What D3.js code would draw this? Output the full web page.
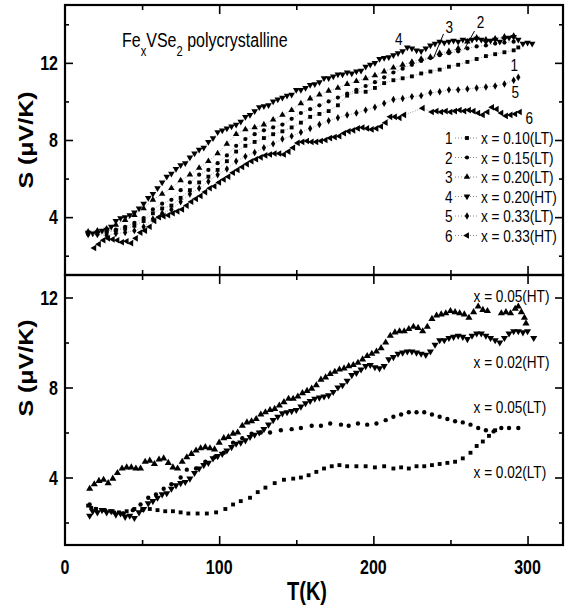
<!DOCTYPE html>
<html>
<head>
<meta charset="utf-8">
<script src="https://cdn.jsdelivr.net/npm/d3@7/dist/d3.min.js"></script>
<style>
  body { margin: 0; background: #fff; }
  text { font-family: "Liberation Sans", Arial, sans-serif; fill: #000; }
</style>
</head>
<body>
<svg id="chart" width="567" height="605"></svg>
<script>
// ---- data: [T (K), S (uV/K)] ----
// top panel
const s1_x010LT = [[15,3.15],[21,3.15],[27,3.2],[33,3.3],[39,3.4],[45,3.55],[51,3.8],[57,4.2],[63,4.45],[69,4.6],[75,5.0],[81,5.4],[87,5.8],[93,6.1],[99,6.45],[105,6.9],[111,7.4],[117,7.7],[123,7.9],[129,8.1],[135,8.3],[141,8.45],[147,8.65],[153,8.9],[159,9.2],[165,9.35],[171,9.5],[177,9.8],[183,10.3],[189,10.5],[195,10.5],[201,10.7],[207,10.95],[213,11.1],[219,11.2],[225,11.3],[231,11.45],[237,11.55],[243,11.65],[249,11.8],[255,11.9],[261,12.05],[267,12.2],[273,12.35],[279,12.45],[285,12.55],[291,12.65],[294,12.8]];
const s2_x015LT = [[15,3.2],[21,3.2],[27,3.25],[33,3.35],[39,3.5],[45,3.7],[51,3.95],[57,4.4],[63,4.7],[69,4.9],[75,5.4],[81,5.8],[87,6.2],[93,6.45],[99,6.8],[105,7.2],[111,7.7],[117,8.05],[123,8.3],[129,8.5],[135,8.65],[141,8.8],[147,9.1],[153,9.4],[159,9.6],[165,9.8],[171,10.0],[177,10.2],[183,10.4],[189,10.6],[195,10.8],[201,11.0],[207,11.25],[213,11.5],[219,11.7],[225,11.9],[231,12.1],[237,12.25],[243,12.4],[249,12.5],[255,12.6],[261,12.75],[267,12.85],[273,12.9],[279,13.0],[285,13.05],[291,13.1]];
const s3_x020LT = [[15,3.25],[21,3.3],[27,3.4],[33,3.6],[39,3.85],[45,4.1],[51,4.45],[57,4.9],[63,5.2],[69,5.5],[75,5.9],[81,6.2],[87,6.55],[93,6.9],[99,7.3],[105,7.8],[111,8.3],[117,8.55],[123,8.65],[129,8.8],[135,9.05],[141,9.3],[147,9.55],[153,9.9],[159,10.15],[165,10.35],[171,10.55],[177,10.7],[183,10.9],[189,11.05],[195,11.2],[201,11.35],[207,11.55],[213,11.75],[219,11.9],[225,12.05],[231,12.2],[237,12.3],[243,12.5],[249,12.6],[255,12.75],[261,13.1],[267,13.3],[273,13.2],[279,13.25],[285,13.35],[291,13.4]];
const s4_x020HT = [[15,3.2],[18,3.15],[21,3.2],[24,3.3],[27,3.35],[30,3.5],[33,3.8],[36,3.95],[39,4.0],[42,4.1],[45,4.25],[48,4.45],[51,4.7],[54,5.0],[57,5.2],[60,5.5],[63,5.8],[66,6.1],[69,6.25],[72,6.5],[75,6.7],[78,6.8],[81,7.1],[84,7.3],[87,7.5],[90,7.6],[93,7.9],[96,8.1],[99,8.4],[102,8.5],[105,8.6],[108,8.7],[111,8.8],[114,8.95],[117,9.2],[120,9.3],[123,9.5],[126,9.7],[129,9.75],[132,9.8],[135,10.0],[138,10.1],[141,10.2],[144,10.3],[147,10.35],[150,10.6],[153,10.6],[156,10.7],[159,10.85],[162,10.9],[165,11.0],[168,11.2],[171,11.2],[174,11.3],[177,11.4],[180,11.4],[183,11.5],[186,11.45],[189,11.55],[192,11.6],[195,11.8],[198,11.9],[201,12.0],[204,12.2],[207,12.25],[210,12.3],[213,12.4],[216,12.5],[219,12.6],[222,12.8],[225,12.75],[228,12.65],[231,12.6],[234,12.75],[237,12.9],[240,13.0],[243,13.1],[246,13.05],[249,13.1],[252,13.15],[255,13.1],[258,13.2],[261,13.15],[264,13.2],[267,13.25],[270,13.2],[273,13.1],[276,13.15],[279,13.2],[282,13.1],[285,13.25],[288,13.3],[291,13.35],[294,13.2],[297,13.0],[300,13.05],[303,13.0]];
const s5_x033LT = [[15,3.1],[21,3.1],[27,3.05],[33,3.15],[39,3.2],[45,3.3],[51,3.5],[57,3.9],[63,4.2],[69,4.4],[75,4.8],[81,5.2],[87,5.5],[93,5.85],[99,6.2],[105,6.5],[111,6.9],[117,7.15],[123,7.35],[129,7.6],[135,7.8],[141,8.05],[147,8.2],[153,8.4],[159,8.6],[165,8.8],[171,9.0],[177,9.15],[183,9.3],[189,9.4],[195,9.55],[201,9.7],[207,9.9],[213,10.1],[219,10.15],[225,10.25],[231,10.3],[237,10.45],[243,10.5],[249,10.6],[255,10.6],[261,10.65],[267,10.7],[273,10.75],[279,10.8],[285,10.9],[291,11.1],[294,11.25]];
const s6_x033HT = [[19,2.4],[22,2.6],[25,2.8],[28,2.9],[31,2.85],[34,2.8],[37,2.7],[40,2.75],[43,2.65],[46,2.9],[49,3.2],[52,3.3],[55,3.5],[58,3.8],[61,4.0],[64,4.05],[67,4.1],[70,4.2],[73,4.3],[76,4.4],[79,4.6],[82,4.8],[85,4.95],[88,5.1],[91,5.3],[94,5.5],[97,5.6],[100,5.8],[103,5.95],[106,6.1],[109,6.3],[112,6.45],[115,6.6],[118,6.75],[121,6.9],[124,7.0],[127,7.1],[130,7.2],[133,7.25],[136,7.3],[139,7.3],[142,7.25],[145,7.4],[148,7.6],[151,7.85],[154,7.9],[157,7.95],[160,7.9],[163,7.9],[166,7.95],[169,8.0],[172,8.1],[175,8.15],[178,8.2],[181,8.35],[184,8.45],[187,8.5],[190,8.6],[193,8.65],[196,8.6],[199,8.55],[202,8.6],[205,8.7],[208,8.9],[211,9.2],[214,9.2],[217,9.15],[220,9.3],[232,9.65],[238,9.45],[241,9.5],[244,9.45],[247,9.5],[250,9.45],[253,9.5],[256,9.55],[259,9.5],[262,9.55],[265,9.5],[268,9.4],[271,9.3],[274,9.45],[277,9.7],[280,9.6],[283,9.4],[286,9.25],[289,9.3],[292,9.35],[295,9.45]];

// bottom panel
const b_x005HT = [[16,3.5],[19,3.7],[22,3.85],[25,3.9],[28,3.75],[31,3.95],[34,4.2],[37,4.4],[40,4.45],[43,4.45],[46,4.4],[49,4.4],[52,4.7],[55,4.75],[58,4.6],[61,4.8],[64,4.85],[67,4.65],[70,4.45],[73,4.4],[76,4.7],[79,4.9],[82,5.05],[85,5.2],[88,5.3],[91,5.35],[94,5.3],[97,5.25],[100,5.55],[103,5.75],[106,5.8],[109,5.95],[112,6.0],[115,6.3],[118,6.45],[121,6.5],[124,6.6],[127,6.8],[130,6.9],[133,7.0],[136,7.05],[139,7.2],[142,7.35],[145,7.5],[148,7.5],[151,7.6],[154,7.75],[157,7.85],[160,7.95],[163,8.1],[166,8.35],[169,8.45],[172,8.6],[175,8.7],[178,8.8],[181,8.85],[184,8.95],[187,9.0],[190,9.1],[193,9.25],[196,9.4],[199,9.5],[202,9.6],[205,9.75],[208,10.0],[211,10.3],[214,10.45],[217,10.5],[220,10.5],[223,10.6],[226,10.7],[229,10.65],[232,10.5],[235,10.7],[238,11.05],[241,11.2],[244,11.25],[247,11.3],[250,11.4],[253,11.35],[256,11.3],[259,11.25],[262,11.1],[265,11.35],[268,11.6],[271,11.45],[274,11.4],[283,11.3],[286,11.35],[289,11.3],[292,11.5],[294,11.6],[296,11.35],[298,11.1],[299,10.85]];
const b_x002HT = [[16,2.3],[18,2.5],[21,2.45],[24,2.55],[27,2.45],[30,2.5],[33,2.35],[36,2.4],[39,2.25],[42,2.3],[45,2.2],[48,2.45],[51,2.6],[54,2.85],[57,2.95],[60,3.1],[63,3.25],[66,3.3],[69,3.5],[72,3.65],[75,3.75],[78,3.8],[81,3.95],[84,4.2],[87,4.4],[90,4.55],[93,4.65],[96,4.85],[99,4.95],[102,5.05],[105,5.2],[108,5.35],[111,5.5],[114,5.55],[117,5.65],[120,5.8],[123,5.9],[126,6.0],[129,6.15],[132,6.35],[135,6.55],[138,6.7],[141,6.85],[144,6.9],[147,6.95],[150,7.0],[153,7.15],[156,7.3],[159,7.4],[162,7.5],[165,7.55],[168,7.6],[171,7.65],[174,7.8],[177,8.0],[180,8.1],[183,8.3],[186,8.55],[189,8.65],[192,8.8],[195,8.95],[198,9.0],[201,8.9],[204,8.85],[207,8.95],[210,9.25],[213,9.35],[216,9.5],[219,9.55],[222,9.6],[225,9.6],[228,9.55],[231,9.5],[234,9.45],[237,9.6],[240,9.9],[243,10.1],[246,10.1],[249,10.2],[252,10.25],[255,10.3],[258,10.25],[261,10.15],[264,10.3],[267,10.4],[270,10.4],[273,10.3],[276,10.2],[279,10.1],[282,10.0],[285,10.2],[288,10.4],[291,10.5],[294,10.5],[297,10.45],[300,10.5],[304,10.2]];
const b_x005LT = [[16,2.8],[20,2.6],[26,2.55],[32,2.45],[38,2.4],[44,2.55],[49,2.8],[54,3.1],[59,3.25],[64,3.5],[69,3.7],[75,4.0],[79,4.35],[85,4.4],[91,4.7],[97,4.9],[103,5.1],[109,5.55],[115,5.75],[121,5.95],[127,6.0],[133,6.0],[140,6.1],[147,6.15],[153,6.2],[160,6.3],[166,6.3],[172,6.4],[179,6.35],[184,6.3],[190,6.4],[196,6.35],[202,6.4],[208,6.55],[213,6.7],[218,6.8],[223,6.9],[228,6.9],[233,6.9],[238,6.8],[243,6.7],[248,6.6],[253,6.5],[258,6.45],[263,6.35],[268,6.2],[273,6.1],[278,6.05],[283,6.2],[288,6.2],[294,6.2]];
const b_x002LT = [[15,2.75],[17,2.65],[20,2.6],[25,2.55],[30,2.5],[35,2.45],[40,2.5],[45,2.6],[50,2.55],[55,2.6],[60,2.55],[65,2.5],[70,2.5],[75,2.45],[80,2.4],[86,2.4],[92,2.4],[98,2.45],[104,2.6],[109,2.8],[114,2.95],[120,3.1],[125,3.35],[130,3.55],[136,3.75],[142,3.9],[148,3.95],[153,4.0],[158,4.1],[163,4.25],[168,4.4],[173,4.5],[178,4.55],[183,4.5],[189,4.5],[195,4.5],[201,4.45],[207,4.5],[213,4.4],[218,4.45],[223,4.4],[228,4.5],[233,4.5],[238,4.55],[243,4.6],[248,4.65],[253,4.7],[258,4.85],[263,5.1],[267,5.4],[271,5.6],[275,5.85],[279,6.1]];

const legendNums = ["1", "2", "3", "4", "5", "6"];
const legendTexts = ["x = 0.10(LT)", "x = 0.15(LT)", "x = 0.20(LT)", "x = 0.20(HT)", "x = 0.33(LT)", "x = 0.33(HT)"];
const bottomTexts = ["x = 0.05(HT)", "x = 0.02(HT)", "x = 0.05(LT)", "x = 0.02(LT)"];
const bottomTextAt = [[265, 11.8], [265, 8.87], [265, 6.87], [265, 3.98]];
// curve numbers in the top panel: [T, S] of the text baseline
const curveNums = ["4", "3", "2", "1", "5", "6"];
const curveNumAt = [[214, 12.93], [246.8, 13.55], [267, 13.81], [289, 11.58], [289.6, 10.18], [298.7, 8.83]];
const leaders = [[[245.5, 13.5], [239, 12.25]], [[265.6, 13.65], [259.1, 12.72]]];

const xMajor = [0, 100, 200, 300], xMinor = [50, 150, 250];
const yMajor = [4, 8, 12];
const yMinorTop = [2, 6, 10, 14], yMinorBot = [2, 6, 10];

// ---- layout ----
const svg = d3.select("#chart");
const padL = 65, padR = 563, padT = 5, midY = 275, padB = 545;
const SX = 0.8; // lettering in the original is squeezed horizontally

let x = d3.scaleLinear().domain([0, 323]).range([padL, padR]);
let yTop = d3.scaleLinear().domain([1, 15]).range([midY, padT]);
let yBot = d3.scaleLinear().domain([1, 13]).range([padB, midY]);

function sqText(g, px, py, str, size, weight, anchor) {
  return g.append("text")
    .attr("transform", `translate(${px},${py}) scale(${SX},1)`)
    .attr("text-anchor", anchor || "start")
    .style("font-size", size + "px")
    .style("font-weight", weight || "normal")
    .text(str);
}

function tickAxis(axis, vals, len, tr) {
  let g = svg.append("g")
    .attr("transform", tr)
    .call(axis.tickValues(vals).tickSizeInner(-len).tickSizeOuter(0).tickFormat(""));
  g.select(".domain").remove();
  g.selectAll("line").style("stroke", "#000").style("stroke-width", "1.6px");
}

function panel(y, y0, y1, minors) {
  tickAxis(d3.axisLeft(y), yMajor, 8, `translate(${padL},0)`);
  tickAxis(d3.axisLeft(y), minors, 4, `translate(${padL},0)`);
  tickAxis(d3.axisRight(y), yMajor, 8, `translate(${padR},0)`);
  tickAxis(d3.axisRight(y), minors, 4, `translate(${padR},0)`);
  tickAxis(d3.axisBottom(x), xMajor.filter(d => d > 0), 9, `translate(0,${y0})`);
  tickAxis(d3.axisBottom(x), xMinor, 5, `translate(0,${y0})`);
  tickAxis(d3.axisTop(x), xMajor.filter(d => d > 0), 9, `translate(0,${y1})`);
  tickAxis(d3.axisTop(x), xMinor, 5, `translate(0,${y1})`);

  svg.append("rect")
    .attr("x", padL).attr("y", y1)
    .attr("width", padR - padL).attr("height", y0 - y1)
    .style("fill", "none").style("stroke", "#000").style("stroke-width", "2.2px");

  yMajor.forEach(v => {
    sqText(svg, padL - 7, y(v) + 7, v, 20, "bold", "end");
  });
}

panel(yTop, midY, padT, yMinorTop);
panel(yBot, padB, midY, yMinorBot);

xMajor.forEach(v => {
  sqText(svg, x(v), padB + 29, v, 20, "bold", "middle");
});

sqText(svg, (padL + padR) / 2 - 7, padB + 55, "T(K)", 25, "bold", "middle");

[[yTop, 140], [yBot, 368]].forEach(([y, cy]) => {
  svg.append("text")
    .attr("transform", `translate(33,${cy}) rotate(-90) scale(1,${SX})`)
    .attr("text-anchor", "middle")
    .style("font-size", "25px")
    .style("font-weight", "bold")
    .text("S (\u03bcV/K)");
});

// ---- markers ----
const symSquare = { type: d3.symbolSquare, size: 15, rot: 0 };
const symCircle = { type: d3.symbolCircle, size: 14, rot: 0 };
const symUp = { type: d3.symbolTriangle, size: 18, rot: 0 };
const symDown = { type: d3.symbolTriangle, size: 19, rot: 180 };
const symDiamond = { type: d3.symbolDiamond, size: 16, rot: 0 };
const symLeft = { type: d3.symbolTriangle, size: 19, rot: -90 };

function series(data, y, sym, dotted) {
  let g = svg.append("g");
  if (dotted) {
    let line = d3.line().x(d => x(d[0])).y(d => y(d[1]));
    g.append("path")
      .attr("d", line(data))
      .style("fill", "none")
      .style("stroke", "#666")
      .style("stroke-width", "0.6px")
      .style("stroke-dasharray", "1,1.5");
  }
  g.selectAll("path.pt")
    .data(data)
    .join("path")
    .attr("class", "pt")
    .attr("d", d3.symbol().type(sym.type).size(sym.size))
    .attr("transform", d => `translate(${x(d[0])},${y(d[1])}) rotate(${sym.rot})`)
    .style("fill", "#000");
}

const topSeries = [
  [s1_x010LT, symSquare],
  [s2_x015LT, symCircle],
  [s3_x020LT, symUp],
  [s4_x020HT, symDown],
  [s5_x033LT, symDiamond],
  [s6_x033HT, symLeft]
];
topSeries.forEach(([d, s]) => series(d, yTop, s, true));

series(b_x002LT, yBot, { type: d3.symbolSquare, size: 15, rot: 0 }, false);
series(b_x005LT, yBot, { type: d3.symbolCircle, size: 15, rot: 0 }, false);
series(b_x002HT, yBot, { type: d3.symbolTriangle, size: 22, rot: 180 }, false);
series(b_x005HT, yBot, { type: d3.symbolTriangle, size: 22, rot: 0 }, false);

// ---- annotations ----
let title = svg.append("text")
  .attr("transform", `translate(122,47) scale(${SX},1)`)
  .style("font-size", "20px");
title.append("tspan").text("Fe");
title.append("tspan").attr("dy", 9).style("font-size", "14px").text("x");
title.append("tspan").attr("dy", -9).text("VSe");
title.append("tspan").attr("dy", 9).style("font-size", "14px").text("2");
title.append("tspan").attr("dy", -9).text(" polycrystalline");

curveNums.forEach((n, i) => {
  sqText(svg, x(curveNumAt[i][0]), yTop(curveNumAt[i][1]), n, 17, "normal", "start");
});
leaders.forEach(l => {
  svg.append("line")
    .attr("x1", x(l[0][0])).attr("y1", yTop(l[0][1]))
    .attr("x2", x(l[1][0])).attr("y2", yTop(l[1][1]))
    .style("stroke", "#000").style("stroke-width", "1px");
});

// legend
const legRow0 = 138, legStep = 19.5;
legendNums.forEach((n, i) => {
  let cy = legRow0 + i * legStep;
  let g = svg.append("g");
  sqText(g, 445, cy + 6, n, 17, "normal", "start");
  g.append("line")
    .attr("x1", 455).attr("x2", 478).attr("y1", cy).attr("y2", cy)
    .style("stroke", "#666").style("stroke-width", "0.8px").style("stroke-dasharray", "1,2");
  let s = topSeries[i][1];
  g.append("path")
    .attr("d", d3.symbol().type(s.type).size(s.size)())
    .attr("transform", `translate(467,${cy}) rotate(${s.rot})`)
    .style("fill", "#000");
  sqText(g, 481, cy + 6, legendTexts[i], 17, "normal", "start");
});

bottomTexts.forEach((t, i) => {
  sqText(svg, x(bottomTextAt[i][0]), yBot(bottomTextAt[i][1]), t, 17, "normal", "start");
});
</script>
</body>
</html>
